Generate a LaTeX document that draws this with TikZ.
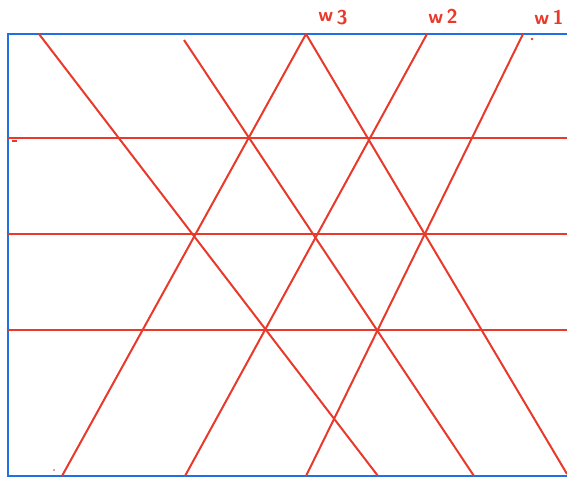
\documentclass[tikz,border=0pt]{standalone}
\usepackage{tikz}
\usetikzlibrary{positioning}
\definecolor{frameBlue}{HTML}{1F6FE5}
\definecolor{penRed}{HTML}{E8392A}

\begin{document}
\begin{tikzpicture}[x=1pt, y=-1pt,
  f/.style={draw=frameBlue, line width=2.6pt},
  r/.style={draw=penRed, line width=2pt},
  lbl/.style={text=penRed, font=\sffamily\bfseries\fontsize{20}{20}\selectfont, inner sep=1pt}]
\useasboundingbox (0,0) rectangle (567,479);
% frame (open on the right)
\coordinate (ftr) at (567,34);
\coordinate (ftl) at (8,34);
\coordinate (fbl) at (8,476);
\coordinate (fbr) at (567,476);
\draw[f] (ftr) -- (ftl) -- (fbl) -- (fbr);
% horizontal lines
\foreach \y/\n in {138/h1, 234/h2, 330/h3} {
  \coordinate (\n a) at (8,\y);
  \coordinate (\n b) at (567,\y);
  \draw[r] (\n a) -- (\n b);
}
% falling lines
\coordinate (d1a) at (39,34);   \coordinate (d1b) at (378,476);
\coordinate (d2a) at (184,40);  \coordinate (d2b) at (474,476);
\coordinate (d3a) at (306,34);  \coordinate (d3b) at (567,474);
\foreach \n in {d1,d2,d3} \draw[r] (\n a) -- (\n b);
% rising lines
\coordinate (u1a) at (62,476);  \coordinate (u1b) at (306,34);
\coordinate (u2a) at (185,476); \coordinate (u2b) at (427,34);
\coordinate (u3a) at (306,476); \coordinate (u3b) at (523,34);
\foreach \n in {u1,u2,u3} \draw[r] (\n a) -- (\n b);
% labels
\node[lbl] (w3) at (333,18) {w\,\raisebox{-0.35ex}{3}};
\node[lbl] (w2) at (443,16) {w\,2};
\node[lbl] (w1) at (549,17) {w\,1};
% stray marks
\draw[penRed, line width=1.4pt] (12,141) -- (17,141);
\fill[penRed] (532,39) circle (1.3pt);
\fill[penRed] (54,470) circle (0.9pt);
\end{tikzpicture}
\end{document}
